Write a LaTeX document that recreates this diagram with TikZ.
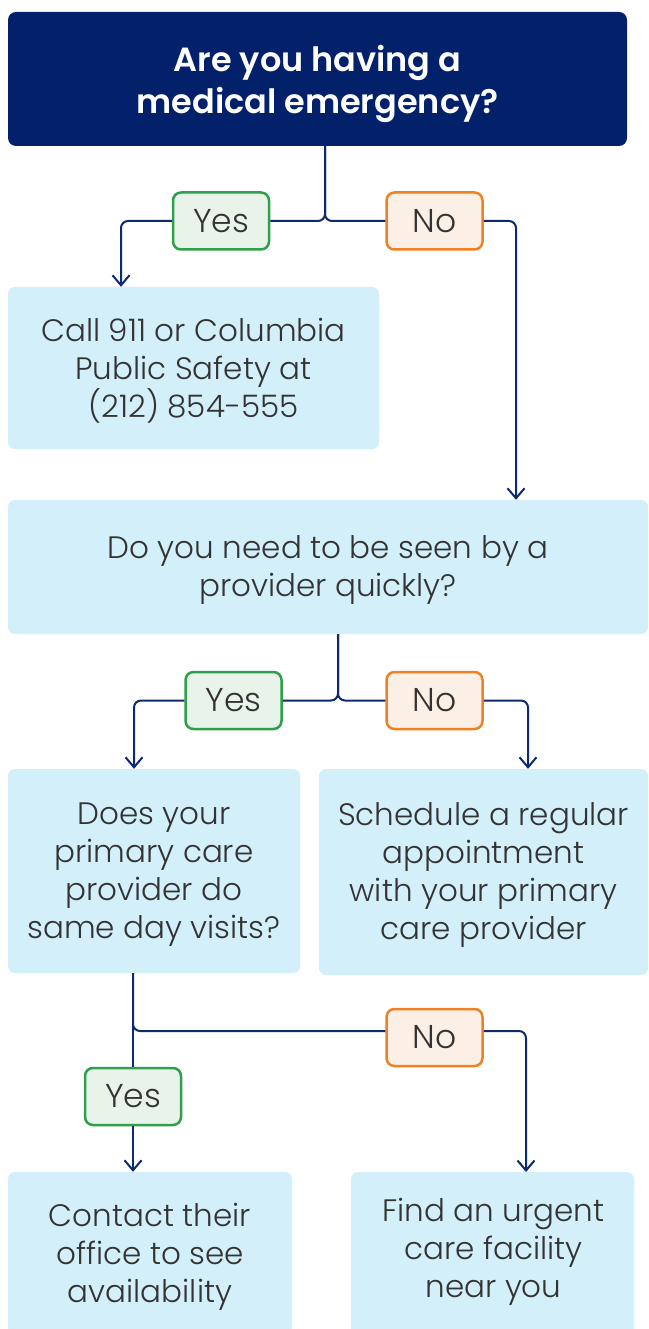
\documentclass[tikz,border=0pt]{standalone}
\usepackage{fontspec}
\setmainfont{Poppins}[UprightFont=* Light, BoldFont=* SemiBold]
\usetikzlibrary{arrows.meta}

\definecolor{navy}{HTML}{03216A}
\definecolor{wire}{HTML}{0B2A6F}
\definecolor{paleblue}{HTML}{D2EFFA}
\definecolor{inkgray}{HTML}{333333}
\definecolor{yesline}{HTML}{2FA04A}
\definecolor{yesfill}{HTML}{E8F3EA}
\definecolor{noline}{HTML}{F08122}
\definecolor{nofill}{HTML}{FCF0E6}

\tikzset{
  titlebox/.style={fill=navy, rounded corners=8pt, inner sep=0pt, text=white,
    align=center, text depth=0pt, font=\fontsize{33.5}{42}\selectfont\bfseries},
  panel/.style={fill=paleblue, rounded corners=7pt, inner sep=0pt, text=inkgray,
    align=center, text depth=1pt, font=\fontsize{31}{38}\selectfont},
  bodytext/.style={inner sep=0pt, text=inkgray, align=center, text depth=1pt,
    font=\fontsize{31}{38}\selectfont},
  tag/.style={rounded corners=8pt, line width=2.5pt, minimum width=96pt,
    minimum height=57pt, inner sep=0pt, text=inkgray, font=\fontsize{33}{36}\selectfont},
  yestag/.style={tag, draw=yesline, fill=yesfill},
  notag/.style={tag, draw=noline, fill=nofill},
  link/.style={draw=wire, line width=2pt, rounded corners=7pt},
  arrowlink/.style={link, -{Straight Barb[length=10pt,width=17pt]}},
}

\begin{document}
\begin{tikzpicture}[x=1pt, y=-1pt]
  \useasboundingbox (0,0) rectangle (648,1329);
  \clip (0,0) rectangle (648,1329);
  \fill[white] (0,0) rectangle (648,1329);

  % question and answer boxes
  \node[titlebox, minimum width=619pt, minimum height=134pt] (q1) at (317.5,79)
    {Are you having a\\medical emergency?};
  \node[panel, minimum width=371pt, minimum height=162pt] (call) at (193.5,368)
    {Call 911 or Columbia\\Public Safety at\\(212) 854-555};
  \node[panel, minimum width=640pt, minimum height=134pt] (need) at (328,567)
    {Do you need to be seen by a\\provider quickly?};
  \node[panel, minimum width=292pt, minimum height=204pt] (q3) at (154,871)
    {Does your\\primary care\\provider do\\same day visits?};
  \node[panel, minimum width=329pt, minimum height=206pt] (sched) at (483.5,872)
    {Schedule a regular\\appointment\\with your primary\\care provider};
  \node[panel, minimum width=284pt, minimum height=162pt] (contact) at (150,1253)
    {Contact their\\office to see\\availability};
  \node[panel, minimum width=283pt, minimum height=180pt, anchor=north] (find) at (492.5,1172) {};
  \node[bodytext] (findtext) at (493.5,1248) {Find an urgent\\care facility\\near you};

  % yes / no tags
  \node[yestag] (yes1) at (221,221) {Yes};
  \node[notag]  (no1)  at (434.5,221) {No};
  \node[yestag] (yes2) at (233.5,700.5) {Yes};
  \node[notag]  (no2)  at (434.5,700.5) {No};
  \node[notag]  (no3)  at (434.5,1037.5) {No};
  \node[yestag] (yes3) at (133,1096.5) {Yes};

  % first decision
  \draw[link] ([xshift=7.5pt]q1.south) |- (yes1.east);
  \draw[link] ([xshift=7.5pt]q1.south) |- (no1.west);
  \draw[arrowlink] (yes1.west) -| ([xshift=-72.5pt]call.north);
  \draw[arrowlink] (no1.east) -| ([xshift=188pt]need.north);

  % second decision
  \draw[link] ([xshift=10pt]need.south) |- (yes2.east);
  \draw[link] ([xshift=10pt]need.south) |- (no2.west);
  \draw[arrowlink] (yes2.west) -| ([xshift=-20pt]q3.north);
  \draw[arrowlink] (no2.east) -| ([xshift=44.5pt]sched.north);

  % third decision
  \draw[link] ([xshift=-21pt]q3.south) -- (yes3.north);
  \draw[link] ([xshift=-21pt]q3.south) |- ([yshift=6.5pt]no3.west);
  \draw[arrowlink] (yes3.south) -- ([xshift=-17pt]contact.north);
  \draw[arrowlink] ([yshift=6.5pt]no3.east) -| ([xshift=33.5pt]find.north);
\end{tikzpicture}
\end{document}
